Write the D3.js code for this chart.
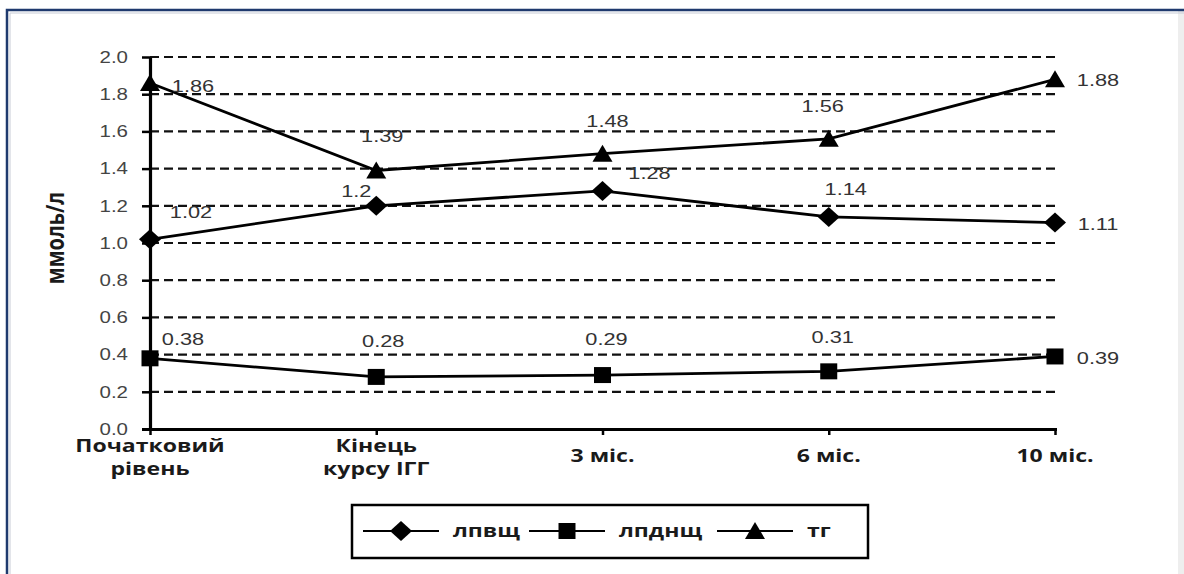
<!DOCTYPE html>
<html>
<head>
<meta charset="utf-8">
<script src="https://cdn.jsdelivr.net/npm/d3@7"></script>
<style>
html,body{margin:0;padding:0;background:#fff;}
svg{display:block;}
.num{font-family:"Liberation Sans",Arial,sans-serif;}
.bold{font-family:"Open Sans","Noto Sans",sans-serif;font-weight:bold;}
</style>
</head>
<body>
<svg id="chart" width="1184" height="574"></svg>
<script>
// data -------------------------------
var categories=[['Початковий','рівень'],['Кінець','курсу ІГГ'],['3 міс.'],['6 міс.'],['10 міс.']];
var lpvsh=[1.02,1.2,1.28,1.14,1.11];
var lpdnsh=[0.38,0.28,0.29,0.31,0.39];
var tg=[1.86,1.39,1.48,1.56,1.88];
var seriesNames=['лпвщ','лпднщ','тг'];
var yTicks=[0,0.2,0.4,0.6,0.8,1.0,1.2,1.4,1.6,1.8,2.0];
var yTitle='ммоль/л';

// label offsets from each point, px (dx to text centre, dy to baseline)
var labelOffsets=[
  [[41,-21],[-20,-9],[47,-12],[17,-22],[43,7]],
  [[33,-13],[7,-30],[4,-30],[4,-28],[43,8]],
  [[43,9],[6,-28],[5,-27],[-6,-27],[43,7]]
];

// the original picture is stretched sideways, so text is too
var SX=1.28;

var svg=d3.select('#chart');
var plotLeft=150,plotRight=1055,plotTop=57,plotBottom=429;

var x=d3.scalePoint().domain(d3.range(categories.length)).range([plotLeft,plotRight]);
var y=d3.scaleLinear().domain([0,2]).range([plotBottom,plotTop]);

// marker shapes
var shapes={
  diamond:'M0,-10L11,0L0,10L-11,0Z',
  square:'M-8.5,-8h17v16h-17Z',
  triangle:'M0,-9L10,8L-10,8Z'
};
var series=[
  {name:seriesNames[0],values:lpvsh,shape:'diamond'},
  {name:seriesNames[1],values:lpdnsh,shape:'square'},
  {name:seriesNames[2],values:tg,shape:'triangle'}
];

function stretch(sel,px,py){
  sel.attr('x',0).attr('y',0).attr('transform',`translate(${px},${py}) scale(${SX},1)`);
}

// frame
svg.append('rect').attr('x',1178).attr('y',11).attr('width',6).attr('height',563).attr('fill','#eeeeee');
svg.append('path').attr('d','M7,574V10H1184').attr('fill','none').attr('stroke','#1f3a6e').attr('stroke-width',2.5);
svg.append('path').attr('d','M10,574V13H1184').attr('fill','none').attr('stroke','#c8ccd6').attr('stroke-width',1);

// gridlines
svg.append('g').selectAll('line').data(yTicks.filter(d=>d>0)).join('line')
  .attr('x1',plotLeft).attr('x2',plotRight+2)
  .attr('y1',d=>y(d)).attr('y2',d=>y(d))
  .attr('stroke','#111').attr('stroke-width',2.2).attr('stroke-dasharray','9,5');

// y axis
var yAxis=svg.append('g').attr('transform',`translate(${plotLeft},0)`)
  .call(d3.axisLeft(y).tickValues(yTicks).tickFormat(d3.format('.1f')).tickSize(8).tickSizeOuter(0));
yAxis.select('.domain').attr('stroke','#000').attr('stroke-width',3.2);
yAxis.selectAll('.tick line').attr('stroke','#000').attr('stroke-width',2.5);
yAxis.selectAll('.tick text').attr('class','num').attr('font-size',16).attr('fill','#444')
  .attr('dy','0.33em').attr('text-anchor','end')
  .attr('x',0).attr('transform',`translate(-22,0) scale(${SX},1)`);

// x axis
var xAxis=svg.append('g').attr('transform',`translate(0,${plotBottom})`)
  .call(d3.axisBottom(x).tickSize(6).tickSizeOuter(0).tickFormat(''));
xAxis.select('.domain').attr('stroke','#000').attr('stroke-width',3.2).attr('d',`M${plotLeft-8},0.5H${plotRight+2}`);
xAxis.selectAll('.tick line').attr('stroke','#000').attr('stroke-width',2.5);

svg.append('g').selectAll('text').data(categories).join('text')
  .attr('class','bold').attr('font-size',18).attr('fill','#1a1a1a').attr('text-anchor','middle')
  .each(function(d,i){
    var t=d3.select(this);
    stretch(t,x(i),d.length>1?452:462);
    d.forEach((line,j)=>{
      t.append('tspan').attr('x',0).attr('dy',j==0?0:23).text(line);
    });
  });

// y title
svg.append('text').attr('class','bold').attr('font-size',20).attr('fill','#1a1a1a')
  .attr('text-anchor','middle')
  .attr('transform',`translate(64,238) scale(${SX},1) rotate(-90)`)
  .text(yTitle);

// lines, markers, labels
var line=d3.line().x((d,i)=>x(i)).y(d=>y(d));
series.forEach((s,k)=>{
  svg.append('path').datum(s.values).attr('d',line)
    .attr('fill','none').attr('stroke','#000').attr('stroke-width',2.8);
  svg.append('g').selectAll('path').data(s.values).join('path')
    .attr('d',shapes[s.shape])
    .attr('transform',(d,i)=>`translate(${x(i)},${y(d)})`)
    .attr('fill','#000');
  svg.append('g').selectAll('text').data(s.values).join('text')
    .attr('class','num').attr('font-size',17).attr('fill','#333').attr('text-anchor','middle')
    .each(function(d,i){
      var off=labelOffsets[k][i];
      stretch(d3.select(this),x(i)+off[0],y(d)+off[1]);
    })
    .text(d=>String(d));
});

// legend
var legend=svg.append('g');
legend.append('rect').attr('x',352).attr('y',505).attr('width',516).attr('height',53)
  .attr('fill','#fff').attr('stroke','#000').attr('stroke-width',2.5);
var legendX=[363,529,717];
var legendY=531;
series.forEach((s,k)=>{
  var lx=legendX[k];
  legend.append('line').attr('x1',lx).attr('x2',lx+76).attr('y1',legendY).attr('y2',legendY)
    .attr('stroke','#000').attr('stroke-width',2);
  legend.append('path').attr('d',shapes[s.shape]).attr('transform',`translate(${lx+38},${legendY})`).attr('fill','#000');
  var t=legend.append('text').attr('class','bold').attr('font-size',18).attr('fill','#1a1a1a')
    .attr('dy','0.32em').text(s.name);
  stretch(t,lx+90,legendY);
});
</script>
</body>
</html>
